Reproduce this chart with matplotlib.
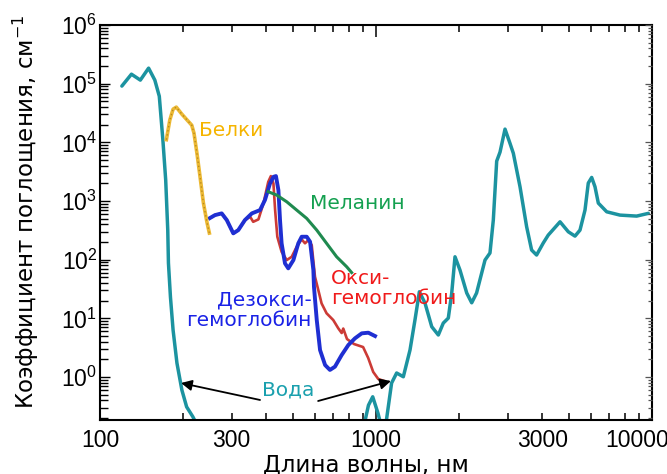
import numpy as np
import matplotlib
matplotlib.use("Agg")
import matplotlib.pyplot as plt
from matplotlib.ticker import LogLocator, NullFormatter, LogFormatterSciNotation

# ---------------- data ----------------
nan = np.nan
water_nm = [120, 130, 140, 150, 158, 164, 169, 173, 176, 177, 180, 184, 190, 198, 206, 217, 225, nan,
            905, 939, 973, 1017, 1047, 1091, 1139, 1188, 1256, 1328, 1384, 1436, 1505, 1592, 1682,
            1753, 1828, 1881, 1933, 2015, 2132, 2222, 2314, 2483, 2588, 2661, 2737, 2814, 2934,
            3059, 3145, 3325, 3514, 3663, 3818, 4036, 4207, 4643, 4974, 5260, 5484, 5718, 5877,
            6046, 6215, 6390, 6853, 7656, 8796, 9696]
water_abs = [9.1e4, 1.45e5, 1.15e5, 1.84e5, 1.15e5, 6.1e4, 1.09e4, 2.27e3, 319, 87.5, 23, 6.3, 1.73,
             0.60, 0.31, 0.21, 0.15, nan,
             0.15, 0.33, 0.46, 0.24, 0.14, 0.185, 0.79, 1.17, 1.01, 2.88, 9.35, 28.4, 18.2, 7.2, 5.2,
             8.3, 10.1, 27, 112, 66.5, 27, 18.4, 27, 98.5, 130, 473, 4780, 6800, 16800,
             9580, 6500, 1750, 364, 146, 120, 192, 262, 442, 299, 252, 319, 700, 2020,
             2520, 1750, 921, 655, 575, 553, 615]

protein_nm = [174, 179, 184, 189, 198, 207, 215, 219, 225, 230, 237, 244, 249]
protein_abs = [1.11e4, 2.39e4, 3.68e4, 3.98e4, 3.02e4, 2.39e4, 1.96e4, 1.44e4, 6.05e3, 2.76e3, 921, 437, 284]

deoxy_nm = [250, 261, 276, 288, 304, 317, 335, 355, 380, 396, 413, 425, 434, 443, 449, 455, 468, 481,
            502, 523, 538, 561, 577, 593, 596, 610, 627, 654, 681, 710, 751, 794, 839, 888, 938, 992]
deoxy_abs = [511, 575, 615, 473, 281, 319, 473, 615, 700, 1040, 1990, 2580, 2660, 1530, 473, 190, 86.5,
             71.1, 98.5, 190, 246, 246, 202, 66.5, 34.5, 9.35, 2.88, 1.6, 1.32, 1.5, 2.37, 3.51, 4.56,
             5.55, 5.69, 4.99]

oxy_nm = [250, 261, 276, 288, 304, 317, 335, 350, 359, 375, 391, 407, 416, 425, 431, 439, 455, 475, 495,
          516, 538, 553, 569, 585, 601, 618, 635, 662, 700, 730, 751, 761, 785, 832, 898, 937, 977,
          1019, 1069]
oxy_abs = [511, 575, 615, 473, 281, 319, 473, 538, 442, 486, 910, 2120, 2660, 1990, 700, 246, 136, 98.5,
           112, 166, 222, 190, 216, 177, 51.2, 30.3, 18, 12.2, 9.35, 6.76, 5.62, 6.7, 4.44, 3.65,
           3.24, 2.11, 1.22, 0.925, 0.855]

melanin_nm = [407, 437, 475, 516, 561, 610, 662, 720, 783, 816]
melanin_abs = [1440, 1260, 969, 700, 505, 319, 190, 112, 75.7, 60.3]

xtick_labels = ['100', '300', '1000', '3000', '10000']
xtick_label_at = [100, 300, 1000, 4000, 8800]

# ---------------- styling ----------------
plt.rcParams['font.family'] = ['DejaVu Sans']
plt.rcParams['mathtext.fontset'] = 'dejavusans'

C_WATER = '#1c93a0'
C_PROT = '#ecb934'
C_DEOXY = '#1f2fd2'
C_OXY = '#cc3b36'
C_MEL = '#1f8a4f'

fig = plt.figure(figsize=(6.67, 4.74), dpi=100)
W, H = 667, 474
ax = fig.add_axes([100 / W, 1 - 420 / H, 552 / W, 395 / H])
ax.set_xscale('log')
ax.set_yscale('log')

ax.plot(water_nm, water_abs, color=C_WATER, lw=2.5, solid_capstyle='round', zorder=2)
ax.plot(oxy_nm, oxy_abs, color=C_OXY, lw=1.9, zorder=3)
ax.plot(deoxy_nm, deoxy_abs, color=C_DEOXY, lw=2.8, zorder=4)
ax.plot(melanin_nm, melanin_abs, color=C_MEL, lw=2.2, zorder=5)
ax.plot(protein_nm, protein_abs, color=C_PROT, lw=2.6, zorder=6)
ax.plot(protein_nm, protein_abs, color='#b98a1c', lw=1.0, dashes=(1, 2), zorder=7)

ax.set_xlim(100, 10000)
ax.set_ylim(0.185, 1e6)

# ticks
ax.xaxis.set_major_locator(LogLocator(base=10, numticks=10))
ax.xaxis.set_minor_locator(LogLocator(base=10, subs=np.arange(2, 10), numticks=20))
ax.xaxis.set_major_formatter(NullFormatter())
ax.xaxis.set_minor_formatter(NullFormatter())
ax.yaxis.set_major_locator(LogLocator(base=10, numticks=20))
ax.yaxis.set_minor_locator(LogLocator(base=10, subs=np.arange(2, 10), numticks=40))
ax.yaxis.set_major_formatter(LogFormatterSciNotation())
ax.yaxis.set_minor_formatter(NullFormatter())

ax.tick_params(axis='x', which='both', direction='in', top=True, bottom=True, width=1.1)
ax.tick_params(axis='x', which='major', length=8.5)
ax.tick_params(axis='x', which='minor', length=5)
ax.tick_params(axis='y', which='both', direction='in', left=True, right=False, width=1.0)
ax.tick_params(axis='y', which='major', length=7.5, pad=2)
ax.tick_params(axis='y', which='minor', length=5.5)
for lbl in ax.get_yticklabels():
    lbl.set_fontfamily('Liberation Sans')
ax.tick_params(axis='y', labelsize=16.5)

for s in ax.spines.values():
    s.set_linewidth(1.5)

tw = ax.twinx()
tw.set_yscale('log')
tw.set_ylim(ax.get_ylim())
tw.yaxis.set_major_locator(LogLocator(base=10, numticks=20))
tw.yaxis.set_minor_locator(LogLocator(base=10, subs=np.arange(2, 10), numticks=40))
tw.yaxis.set_major_formatter(NullFormatter())
tw.yaxis.set_minor_formatter(NullFormatter())
tw.tick_params(axis='y', which='both', direction='in', color='#555555', width=0.9)
tw.tick_params(axis='y', which='major', length=5)
tw.tick_params(axis='y', which='minor', length=3)
for s in tw.spines.values():
    s.set_visible(False)

fig.canvas.draw()
for lbl in ax.get_yticklabels():
    lbl.set_fontfamily('Liberation Sans')
    lbl.set_fontsize(16.5)

# x tick labels
xt = ax.get_xaxis_transform()
for lab, pos in zip(xtick_labels, xtick_label_at):
    ax.text(pos, -0.068, lab, transform=xt, ha='center', va='baseline',
            fontsize=16.5, family='Liberation Sans', clip_on=False)

# axis labels
ax.set_xlabel('Длина волны, нм', fontsize=16.5)
ax.xaxis.set_label_coords(0.482, -0.132)
ax.xaxis.label.set_va('baseline')
ax.set_ylabel('Коэффициент поглощения, см$^{\\mathdefault{-1}}$', fontsize=16.5)
ax.yaxis.set_label_coords(-0.134, 0.527)
ax.yaxis.label.set_va('center')

# annotations
ta = ax.transAxes
ax.text(0.179, 0.732, 'Белки', color='#f5b400', fontsize=14.5, ha='left', va='center', transform=ta)
ax.text(0.380, 0.549, 'Меланин', color='#14a050', fontsize=14.5, ha='left', va='center', transform=ta)
ax.text(0.418, 0.332, 'Окси-\nгемоглобин', color='#f01a1a', fontsize=14.5, ha='left', va='center',
        transform=ta, linespacing=1.05)
ax.text(0.384, 0.278, 'Дезокси-\nгемоглобин', color='#1a22e6', fontsize=14.5, ha='right', va='center',
        multialignment='right', transform=ta, linespacing=1.05)
ax.text(0.341, 0.076, 'Вода', color='#1aa0ae', fontsize=14.5, ha='center', va='center', transform=ta)

arrow_kw = dict(arrowstyle='-|>', color='black', lw=1.3, mutation_scale=16, shrinkA=0, shrinkB=0)
ax.annotate('', xy=(196.6, 0.79), xytext=(380, 0.406), arrowprops=arrow_kw, zorder=8)
ax.annotate('', xy=(1133, 0.855), xytext=(617, 0.39), arrowprops=arrow_kw, zorder=8)

fig.savefig('out.png', dpi=100, facecolor='white')
